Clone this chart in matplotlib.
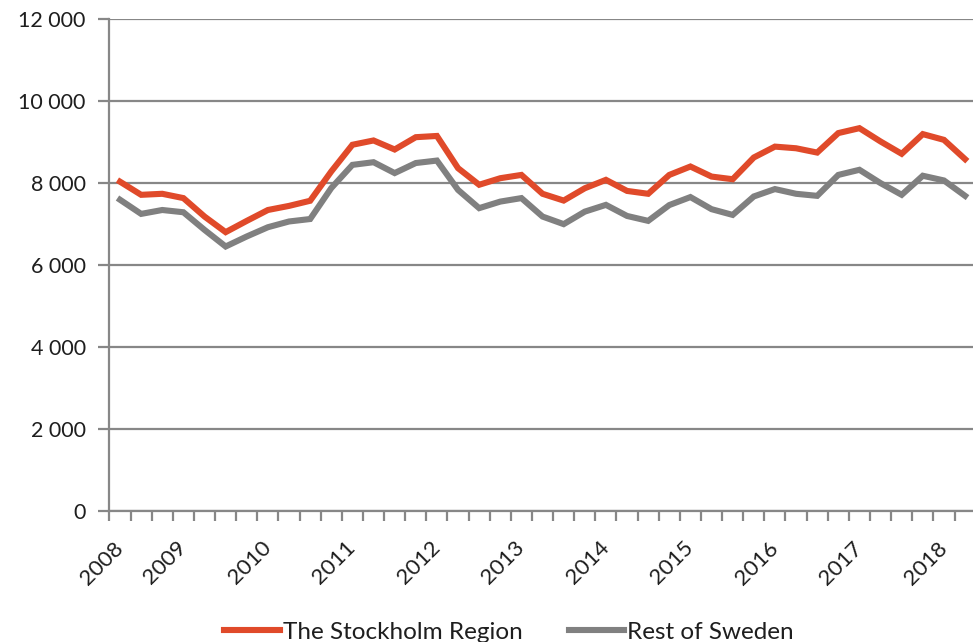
import matplotlib
matplotlib.use("Agg")
import matplotlib.pyplot as plt

# quarterly, 2008 Q2 .. 2018 Q2
stockholm = [8040, 7720, 7745, 7640, 7190, 6810, 7085, 7350, 7450, 7575,
             8290, 8940, 9045, 8825, 9125, 9155, 8370, 7965, 8125, 8205,
             7745, 7580, 7880, 8085, 7815, 7745, 8205, 8410, 8165, 8100,
             8630, 8895, 8855, 8750, 9225, 9345, 9020, 8720, 9200, 9060, 8590]
rest = [7600, 7255, 7350, 7295, 6865, 6460, 6705, 6930, 7070, 7130,
        7885, 8450, 8515, 8250, 8495, 8555, 7840, 7395, 7555, 7640,
        7190, 7005, 7310, 7475, 7205, 7085, 7470, 7665, 7370, 7230,
        7680, 7860, 7745, 7695, 8205, 8330, 8005, 7720, 8185, 8070, 7695]
year_labels = ["2008", "2009", "2010", "2011", "2012", "2013",
               "2014", "2015", "2016", "2017", "2018"]
year_pos = [0, 3, 7, 11, 15, 19, 23, 27, 31, 35, 39]
yticks = [0, 2000, 4000, 6000, 8000, 10000, 12000]

plt.rcParams['font.family'] = ['Lato', 'DejaVu Sans']
axcol = '#878787'
txtcol = '#1e1e1e'

fig = plt.figure(figsize=(9.73, 6.42), dpi=100)
ax = fig.add_axes([0.1125, 0.2033, 0.8902, 0.7667])

x = list(range(len(stockholm)))
ax.plot(x, stockholm, color='#e04a2a', lw=4.4, solid_joinstyle='miter',
        label='The Stockholm Region', zorder=3)
ax.plot(x, rest, color='#808080', lw=4.4, solid_joinstyle='miter',
        label='Rest of Sweden', zorder=3)

ax.set_xlim(-0.5, len(x) - 0.5)
ax.set_ylim(0, 12000)

ax.set_yticks(yticks)
ax.set_yticklabels([f"{v:,}".replace(",", " ") for v in yticks])
ax.yaxis.grid(True, color=axcol, lw=1.6)
ax.set_axisbelow(True)

# tick marks between categories, labels on year starts
ax.set_xticks([i - 0.5 for i in range(len(x) + 1)])
ax.set_xticklabels([])
ax.set_xticks(year_pos, minor=True)
ax.set_xticklabels(year_labels, minor=True, rotation=45, ha='right',
                   va='center', rotation_mode='anchor')
ax.tick_params(axis='x', which='major', length=7, width=1.6, color=axcol)
ax.tick_params(axis='x', which='minor', length=0, pad=24, labelsize=16,
               labelcolor=txtcol)
ax.tick_params(axis='y', length=8, width=1.6, color=axcol, pad=9,
               labelsize=15.5, labelcolor=txtcol)

for s in ['top', 'right']:
    ax.spines[s].set_visible(False)
for s in ['left', 'bottom']:
    ax.spines[s].set_color(axcol)
    ax.spines[s].set_linewidth(1.6)

fig.legend(loc='lower center', bbox_to_anchor=(0.523, -0.035), ncol=2,
           frameon=False, fontsize=17.5, handlelength=2.3, handletextpad=0.12,
           columnspacing=1.9, labelcolor=txtcol)

fig.savefig("out.png", dpi=100)
